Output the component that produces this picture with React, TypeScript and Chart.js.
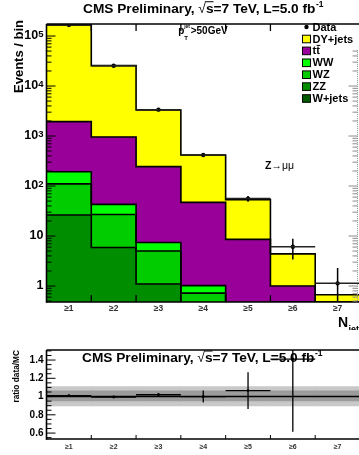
import React, { useEffect, useRef } from 'react';
import { Chart, registerables } from 'chart.js';
Chart.register(...registerables);

const FONT = '"Liberation Sans", Arial, "DejaVu Sans", sans-serif';

// ---------- data ----------
const categories = ['≥1', '≥2', '≥3', '≥4', '≥5', '≥6', '≥7'];
const dataValues = [167000, 25500, 3370, 418, 56, 6.1, 1.13];
const dataErrors = [410, 160, 58, 20, 7.4, 2.7, 1.15];
const wjets = [0.3, 0.1, 0.05, 0.02, 0.01, 0, 0];
const zz = [26, 5.8, 1.05, 0.2, 0.05, 0.01, 0];
const wz = [84, 21, 3.9, 0.5, 0.1, 0.02, 0.01];
const ww = [83, 16, 2.4, 0.3, 0.1, 0.02, 0.01];
const ttbar = [1750, 912, 237, 46, 8.3, 0.95, 0.4];
const dyjets = [164000, 24600, 3070, 370, 45, 3.4, 0.25];

const ratioValues = [1.01, 0.995, 1.02, 1.0, 1.065, 1.41, null];
const ratioErrors = [0.01, 0.01, 0.02, 0.065, 0.2, 0.795, null];
const uncInnerLow = [0.953, 0.953, 0.953, 0.953, 0.953, 0.953, 0.953];
const uncInnerHigh = [1.063, 1.063, 1.063, 1.063, 1.063, 1.063, 1.063];
const uncOuterLow = [0.898, 0.898, 0.898, 0.898, 0.898, 0.898, 0.898];
const uncOuterHigh = [1.11, 1.11, 1.11, 1.11, 1.11, 1.11, 1.11];

const yLogPowers = [0, 1, 2, 3, 4, 5];
const ratioTicks = [0.6, 0.8, 1.0, 1.2, 1.4];

const C_DY = '#ffff00';
const C_TT = '#990099';
const C_WW = '#00ff00';
const C_WZ = '#00cc00';
const C_ZZ = '#008e00';
const C_WJ = '#005a00';

const stackSeries = [wjets, zz, wz, ww, ttbar, dyjets];
const legendItems = [
  { name: 'DY+jets', color: C_DY },
  { name: 'tt', color: C_TT, bar: true },
  { name: 'WW', color: C_WW },
  { name: 'WZ', color: C_WZ },
  { name: 'ZZ', color: C_ZZ },
  { name: 'W+jets', color: C_WJ },
];

// ---------- helpers ----------
function line(ctx: CanvasRenderingContext2D, x1: number, y1: number, x2: number, y2: number) {
  ctx.beginPath();
  ctx.moveTo(x1, y1);
  ctx.lineTo(x2, y2);
  ctx.stroke();
}

function drawCmsTitle(ctx: CanvasRenderingContext2D, x: number, base: number) {
  const size = 13.7;
  const b = `bold ${size}px ${FONT}`;
  ctx.save();
  ctx.fillStyle = '#000';
  ctx.strokeStyle = '#000';
  ctx.textAlign = 'left';
  ctx.textBaseline = 'alphabetic';
  let cx = x;
  ctx.font = b;
  ctx.fillText('CMS Preliminary, ', cx, base);
  cx += ctx.measureText('CMS Preliminary, ').width;
  ctx.font = `${size}px ${FONT}`;
  ctx.fillText('√', cx, base);
  cx += ctx.measureText('√').width;
  ctx.font = b;
  const sw = ctx.measureText('s').width;
  ctx.fillText('s', cx, base);
  ctx.lineWidth = 1;
  line(ctx, cx - 1, base - size * 0.8, cx + sw, base - size * 0.8);
  cx += sw;
  ctx.fillText('=7 TeV, L=5.0 fb', cx, base);
  cx += ctx.measureText('=7 TeV, L=5.0 fb').width;
  ctx.font = `bold ${size * 0.62}px ${FONT}`;
  ctx.fillText('-1', cx + 0.5, base - size * 0.45);
  ctx.restore();
}

function binGeom(chart: any, i: number) {
  const xs = chart.scales.x;
  const half = (xs.getPixelForValue(1) - xs.getPixelForValue(0)) / 2;
  const xc = xs.getPixelForValue(i);
  return { xc, xl: xc - half, xr: xc + half };
}

// ---------- top plot plugin ----------
const topPlugin = {
  id: 'topDecor',
  afterDatasetDraw(chart: any, args: any) {
    if (args.index !== 1) return;
    const ctx: CanvasRenderingContext2D = chart.ctx;
    const ys = chart.scales.y;
    const ca = chart.chartArea;
    ctx.save();
    ctx.beginPath();
    ctx.rect(ca.left, ca.top, ca.right - ca.left, ca.bottom - ca.top);
    ctx.clip();
    ctx.strokeStyle = '#000';
    ctx.lineWidth = 1.6;
    const cum = categories.map(() => 0);
    stackSeries.forEach((s) => {
      ctx.beginPath();
      categories.forEach((_, i) => {
        cum[i] += s[i];
        const g = binGeom(chart, i);
        const yy = ys.getPixelForValue(cum[i] > 0 ? cum[i] : 0);
        if (i === 0) ctx.moveTo(g.xl, yy);
        else ctx.lineTo(g.xl, yy);
        ctx.lineTo(g.xr, yy);
      });
      ctx.stroke();
    });
    ctx.restore();
  },
  afterDraw(chart: any) {
    const ctx: CanvasRenderingContext2D = chart.ctx;
    const ys = chart.scales.y;
    const ca = chart.chartArea;
    ctx.save();
    // data error bars
    ctx.save();
    ctx.beginPath();
    ctx.rect(ca.left, ca.top, ca.right - ca.left, ca.bottom - ca.top);
    ctx.clip();
    ctx.strokeStyle = '#000';
    ctx.lineWidth = 1.5;
    dataValues.forEach((v, i) => {
      const g = binGeom(chart, i);
      const e = dataErrors[i];
      const lo = v - e > 0 ? ys.getPixelForValue(v - e) : ca.bottom;
      const hi = ys.getPixelForValue(v + e);
      line(ctx, g.xc, lo, g.xc, hi);
      const yy = ys.getPixelForValue(v);
      ctx.strokeStyle = '#222';
      line(ctx, g.xl, yy, g.xr, yy);
      ctx.strokeStyle = '#000';
    });
    ctx.restore();

    // frame
    ctx.strokeStyle = '#000';
    ctx.lineWidth = 1.6;
    line(ctx, ca.left, ca.top, ca.left, ca.bottom + 0.8);
    line(ctx, ca.left, ca.top, ca.right, ca.top);
    line(ctx, ca.left, ca.bottom, ca.right, ca.bottom);

    // right axis (faint)
    const rx = 357.5;
    ctx.save();
    ctx.strokeStyle = '#9a9a9a';
    ctx.lineWidth = 1;
    ctx.setLineDash([1, 1]);
    line(ctx, rx, 50, rx, ca.bottom);
    ctx.setLineDash([]);
    ctx.restore();

    // log ticks
    ctx.lineWidth = 1;
    for (let p = -1; p <= 5; p++) {
      for (let m = 1; m <= 9; m++) {
        const v = m * Math.pow(10, p);
        if (v < ys.min || v > ys.max) continue;
        const py = ys.getPixelForValue(v);
        const len = m === 1 ? 9 : 5;
        ctx.strokeStyle = '#000';
        line(ctx, ca.left, py, ca.left + len, py);
        if (py > 48) {
          ctx.strokeStyle = '#8a8a8a';
          line(ctx, rx, py, rx - len, py);
        }
      }
    }
    // bin-edge ticks
    ctx.strokeStyle = '#000';
    ctx.lineWidth = 1.3;
    for (let i = 1; i < categories.length; i++) {
      const g = binGeom(chart, i);
      line(ctx, g.xl, ca.bottom, g.xl, ca.bottom - 7);
      if (g.xl < 300) line(ctx, g.xl, ca.top, g.xl, ca.top + 7);
    }

    // y labels
    ctx.fillStyle = '#000';
    ctx.textBaseline = 'middle';
    yLogPowers.forEach((p) => {
      const py = ys.getPixelForValue(Math.pow(10, p));
      const right = 43.5;
      ctx.textAlign = 'right';
      if (p === 0 || p === 1) {
        ctx.font = `bold 12.5px ${FONT}`;
        ctx.fillText(p === 0 ? '1' : '10', right, py);
      } else {
        ctx.font = `bold 9.5px ${FONT}`;
        const sup = String(p);
        const sw = ctx.measureText(sup).width;
        ctx.textBaseline = 'alphabetic';
        ctx.fillText(sup, right, py + 0.5);
        ctx.textBaseline = 'middle';
        ctx.font = `bold 12.5px ${FONT}`;
        ctx.fillText('10', right - sw, py);
      }
    });

    // x labels
    ctx.font = `bold 8.5px ${FONT}`;
    ctx.fillStyle = '#333';
    ctx.textAlign = 'center';
    ctx.textBaseline = 'middle';
    categories.forEach((c, i) => {
      const g = binGeom(chart, i);
      ctx.fillText(c, g.xc, 308.5);
    });

    // titles
    ctx.fillStyle = '#000';
    drawCmsTitle(ctx, 83, 12.7);

    ctx.save();
    ctx.translate(23, 20);
    ctx.rotate(-Math.PI / 2);
    ctx.font = `bold 13px ${FONT}`;
    ctx.textAlign = 'right';
    ctx.textBaseline = 'alphabetic';
    ctx.fillText('Events / bin', 0, 0);
    ctx.restore();

    ctx.textAlign = 'left';
    ctx.textBaseline = 'alphabetic';
    ctx.font = `bold 14px ${FONT}`;
    ctx.fillText('N', 338, 327);
    ctx.font = `bold 9px ${FONT}`;
    ctx.fillText('jets', 348.5, 331.5);

    // p_T^jet > 50 GeV
    ctx.font = `bold 10px ${FONT}`;
    ctx.fillText('p', 178.3, 33.7);
    ctx.font = `bold 6px ${FONT}`;
    ctx.fillText('T', 184.3, 39.8);
    ctx.font = `bold 5px ${FONT}`;
    ctx.fillText('jet', 184.2, 28.3);
    ctx.font = `bold 10px ${FONT}`;
    ctx.fillText('>50GeV', 190.7, 33.7);

    // Z -> mu mu
    ctx.font = `bold 10.5px ${FONT}`;
    ctx.fillText('Z', 265, 169.3);
    const zw = ctx.measureText('Z').width;
    ctx.font = `10.5px ${FONT}`;
    ctx.fillText('→μμ', 265 + zw, 169.3);

    // legend
    const lx = 302.5;
    ctx.beginPath();
    ctx.arc(306.5, 27, 2.2, 0, Math.PI * 2);
    ctx.fill();
    ctx.font = `bold 11px ${FONT}`;
    ctx.textBaseline = 'middle';
    ctx.fillText('Data', 312.5, 27.5);
    legendItems.forEach((it, k) => {
      const cy = 39 + 11.9 * k;
      ctx.fillStyle = it.color;
      ctx.fillRect(lx, cy - 3.8, 8, 7.6);
      ctx.strokeStyle = '#000';
      ctx.lineWidth = 1;
      ctx.strokeRect(lx, cy - 3.8, 8, 7.6);
      ctx.fillStyle = '#000';
      ctx.fillText(it.name, 312.5, cy + 0.5);
      if (it.bar) {
        const w1 = ctx.measureText('t').width;
        ctx.lineWidth = 1;
        line(ctx, 312.5 + w1 + 0.5, cy - 5.5, 312.5 + 2 * w1 + 0.5, cy - 5.5);
      }
    });
    ctx.restore();
  },
};

// ---------- ratio plugin ----------
const ratioPlugin = {
  id: 'ratioDecor',
  afterDraw(chart: any) {
    const ctx: CanvasRenderingContext2D = chart.ctx;
    const ys = chart.scales.y;
    const ca = chart.chartArea;
    ctx.save();
    // unity line
    ctx.strokeStyle = '#000';
    ctx.lineWidth = 1.5;
    const y1 = ys.getPixelForValue(1);
    line(ctx, ca.left, y1, ca.right, y1);

    // error bars
    ctx.save();
    ctx.beginPath();
    ctx.rect(ca.left, ca.top, ca.right - ca.left, ca.bottom - ca.top);
    ctx.clip();
    ctx.lineWidth = 1.3;
    ratioValues.forEach((v, i) => {
      if (v === null) return;
      const e = ratioErrors[i] as number;
      const g = binGeom(chart, i);
      line(ctx, g.xc, ys.getPixelForValue(v - e), g.xc, ys.getPixelForValue(v + e));
      const yy = ys.getPixelForValue(v);
      line(ctx, g.xl, yy, g.xr, yy);
    });
    ctx.restore();

    // frame
    ctx.lineWidth = 1.6;
    line(ctx, ca.left, ca.top, ca.left, ca.bottom + 0.8);
    line(ctx, ca.left, ca.top, ca.right, ca.top);
    line(ctx, ca.left, ca.bottom, ca.right, ca.bottom);

    // y ticks
    ctx.lineWidth = 1;
    for (let k = 0; k <= 40; k++) {
      const v = 0.5 + k * 0.05;
      if (v < ys.min || v > ys.max) continue;
      const major = ratioTicks.some((t) => Math.abs(t - v) < 1e-6);
      const py = ys.getPixelForValue(v);
      line(ctx, ca.left, py, ca.left + (major ? 9 : 5), py);
    }
    // bin edge ticks
    for (let i = 1; i < categories.length; i++) {
      const g = binGeom(chart, i);
      line(ctx, g.xl, ca.bottom, g.xl, ca.bottom - 4);
    }

    // labels
    ctx.fillStyle = '#000';
    ctx.font = `bold 10px ${FONT}`;
    ctx.textAlign = 'right';
    ctx.textBaseline = 'middle';
    ratioTicks.forEach((t) => {
      ctx.fillText(t === 1 ? '1' : t.toFixed(1), 43.5, ys.getPixelForValue(t));
    });
    ctx.font = `bold 7px ${FONT}`;
    ctx.fillStyle = '#333';
    ctx.textAlign = 'center';
    categories.forEach((c, i) => {
      const g = binGeom(chart, i);
      ctx.fillText(c, g.xc, 117);
    });

    ctx.fillStyle = '#000';
    ctx.save();
    ctx.translate(18.5, 20);
    ctx.rotate(-Math.PI / 2);
    ctx.font = `bold 8.3px ${FONT}`;
    ctx.textAlign = 'right';
    ctx.textBaseline = 'alphabetic';
    ctx.fillText('ratio data/MC', 0, 0);
    ctx.restore();

    drawCmsTitle(ctx, 82, 32);
    ctx.restore();
  },
};

export default function App() {
  const topRef = useRef<HTMLCanvasElement>(null);
  const botRef = useRef<HTMLCanvasElement>(null);

  useEffect(() => {
    const bar = (label: string, data: number[], color: string) => ({
      type: 'bar' as const,
      label,
      data,
      backgroundColor: color,
      borderWidth: 0,
      stack: 'mc',
    });
    const top = new Chart(topRef.current as HTMLCanvasElement, {
      type: 'bar',
      data: {
        labels: categories,
        datasets: [
          {
            type: 'line',
            label: 'Data',
            data: dataValues,
            showLine: false,
            pointRadius: 2.2,
            pointBackgroundColor: '#000',
            pointBorderWidth: 0,
            borderColor: '#000',
            stack: 'data',
          } as any,
          bar('W+jets', wjets, C_WJ),
          bar('ZZ', zz, C_ZZ),
          bar('WZ', wz, C_WZ),
          bar('WW', ww, C_WW),
          bar('tt', ttbar, C_TT),
          bar('DY+jets', dyjets, C_DY),
        ],
      },
      options: {
        animation: false,
        responsive: false,
        layout: { padding: { left: 46.5, top: 24, right: 0.4, bottom: 28 } },
        plugins: { legend: { display: false }, tooltip: { enabled: false } },
        datasets: { bar: { barPercentage: 1, categoryPercentage: 1 } },
        scales: {
          x: { type: 'category', display: false, stacked: true, offset: true },
          y: { type: 'logarithmic', display: false, stacked: true, min: 0.479, max: 1.74e5 },
        },
      } as any,
      plugins: [topPlugin],
    });

    const bot = new Chart(botRef.current as HTMLCanvasElement, {
      type: 'bar',
      data: {
        labels: categories,
        datasets: [
          {
            type: 'line',
            label: 'ratio',
            data: ratioValues,
            showLine: false,
            pointRadius: 1.4,
            pointBackgroundColor: '#000',
            pointBorderWidth: 0,
            borderColor: '#000',
          } as any,
          {
            type: 'bar',
            label: 'MC unc. inner',
            data: categories.map((_, i) => [uncInnerLow[i], uncInnerHigh[i]]),
            backgroundColor: '#9c9c9c',
            borderWidth: 0,
          },
          {
            type: 'bar',
            label: 'MC unc. outer',
            data: categories.map((_, i) => [uncOuterLow[i], uncOuterHigh[i]]),
            backgroundColor: '#c8c8c8',
            borderWidth: 0,
          },
        ],
      },
      options: {
        animation: false,
        responsive: false,
        layout: { padding: { left: 46.5, top: 20, right: 0.4, bottom: 16 } },
        plugins: { legend: { display: false }, tooltip: { enabled: false } },
        datasets: { bar: { barPercentage: 1, categoryPercentage: 1, grouped: false } },
        scales: {
          x: { type: 'category', display: false, offset: true },
          y: { type: 'linear', display: false, min: 0.535, max: 1.51 },
        },
      } as any,
      plugins: [ratioPlugin],
    });

    return () => {
      top.destroy();
      bot.destroy();
    };
  }, []);

  return (
    <div
      style={{
        position: 'absolute',
        left: 0,
        top: 0,
        width: 359,
        height: 455,
        overflow: 'hidden',
        background: '#fff',
      }}
    >
      <canvas ref={topRef} width={364} height={330} style={{ position: 'absolute', left: 0, top: 0 }} />
      <canvas ref={botRef} width={364} height={125} style={{ position: 'absolute', left: 0, top: 330 }} />
    </div>
  );
}
